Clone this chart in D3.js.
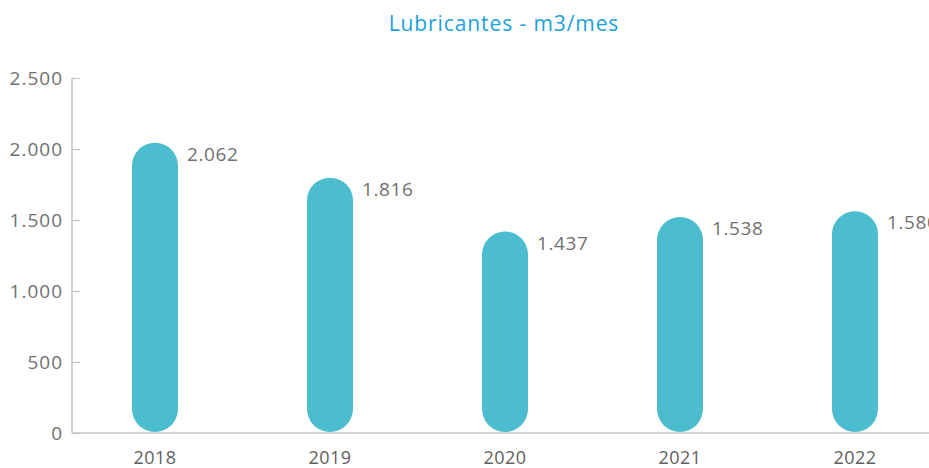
<!DOCTYPE html>
<html>
<head>
<meta charset="utf-8">
<script src="https://cdn.jsdelivr.net/npm/d3@7.9.0/dist/d3.min.js"></script>
<style>
  body { margin: 0; background: #fff; }
  svg { display: block; }
  text { font-family: "Open Sans", "Noto Sans", sans-serif; }
</style>
</head>
<body>
<div id="chart"></div>
<script>
const years = ['2018', '2019', '2020', '2021', '2022'];
const values = [2062, 1816, 1437, 1538, 1580];
const yTicks = [0, 500, 1000, 1500, 2000, 2500];
const title = 'Lubricantes - m3/mes';

const width = 929;
const height = 468;
const axisX = 72;
const barWidth = 46;

const fmt = d3.formatLocale({ decimal: ',', thousands: '.', grouping: [3], currency: ['', ''] }).format(',d');

const svg = d3.select('#chart')
  .append('svg')
  .attr('width', width)
  .attr('height', height);

const x = d3.scaleBand()
  .domain(years)
  .range([67.5, 942.5]);

const y = d3.scaleLinear()
  .domain([0, 2500])
  .range([433, 78]);

// title
svg.append('text')
  .attr('x', 504)
  .attr('y', 31)
  .attr('text-anchor', 'middle')
  .attr('fill', '#1BA1DC')
  .style('font-size', '21px')
  .style('letter-spacing', '0.9px')
  .text(title);

// y axis
const yAxis = svg.append('g')
  .attr('transform', `translate(${axisX},0)`)
  .call(d3.axisRight(y).tickValues(yTicks).tickSize(8).tickFormat(''));
yAxis.select('.domain').attr('stroke', '#c4c4c4').attr('stroke-width', 1.5).attr('d', `M0,${y(2500)}V${y(0)}`);
yAxis.selectAll('.tick line').attr('stroke', '#c4c4c4').attr('stroke-width', 1.2);

svg.append('g')
  .selectAll('text')
  .data(yTicks)
  .join('text')
  .attr('x', axisX - 9)
  .attr('y', (d) => y(d))
  .attr('dy', '0.36em')
  .attr('text-anchor', 'end')
  .attr('fill', '#707070')
  .style('font-size', '19px')
  .style('letter-spacing', '1px')
  .text((d) => fmt(d));

// x axis line
svg.append('line')
  .attr('x1', axisX)
  .attr('x2', width)
  .attr('y1', y(0))
  .attr('y2', y(0))
  .attr('stroke', '#c4c4c4')
  .attr('stroke-width', 1.5);

svg.append('g')
  .selectAll('text')
  .data(years)
  .join('text')
  .attr('x', (d) => x(d) + x.bandwidth() / 2)
  .attr('y', 464)
  .attr('text-anchor', 'middle')
  .attr('fill', '#606060')
  .style('font-size', '18px')
  .style('letter-spacing', '0.5px')
  .text((d) => d);

// bars
const data = years.map((yr, i) => ({ year: yr, value: values[i] }));

svg.append('g')
  .selectAll('rect')
  .data(data)
  .join('rect')
  .attr('x', (d) => x(d.year) + x.bandwidth() / 2 - barWidth / 2)
  .attr('y', (d) => y(d.value) + 2.5)
  .attr('width', barWidth)
  .attr('height', (d) => y(0) - 1 - (y(d.value) + 2.5))
  .attr('rx', barWidth / 2)
  .attr('fill', '#4BBDCE');

svg.append('g')
  .selectAll('text')
  .data(data)
  .join('text')
  .attr('x', (d) => x(d.year) + x.bandwidth() / 2 + barWidth / 2 + 9)
  .attr('y', (d) => y(d.value) + 14)
  .attr('dy', '0.36em')
  .attr('fill', '#707070')
  .style('font-size', '19px')
  .style('letter-spacing', '0.6px')
  .text((d) => fmt(d.value));
</script>
</body>
</html>
